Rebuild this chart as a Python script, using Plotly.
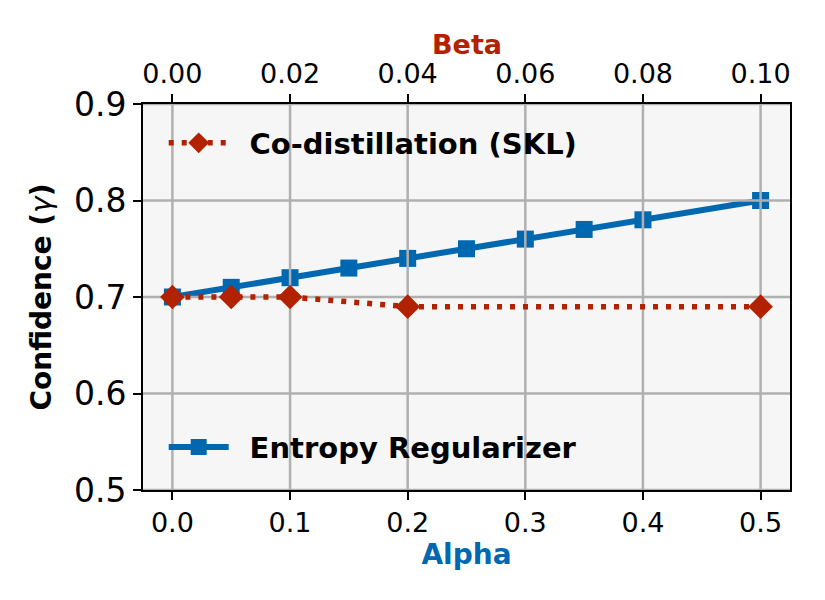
import plotly.graph_objects as go

# data
alpha = [0.0, 0.05, 0.1, 0.15, 0.2, 0.25, 0.3, 0.35, 0.4, 0.5]
entropy_conf = [0.70, 0.71, 0.72, 0.73, 0.74, 0.75, 0.76, 0.77, 0.78, 0.80]

beta = [0.0, 0.01, 0.02, 0.04, 0.10]
skl_conf = [0.70, 0.70, 0.70, 0.69, 0.69]

alpha_ticks = [0.0, 0.1, 0.2, 0.3, 0.4, 0.5]
beta_ticks = [0.00, 0.02, 0.04, 0.06, 0.08, 0.10]
y_ticks = [0.5, 0.6, 0.7, 0.8, 0.9]

alpha_range = [-0.025, 0.525]
beta_range = [-0.005, 0.105]
y_range = [0.5, 0.9]

BLUE = '#0068b0'
RED = '#b22200'
GRID = '#b0b0b0'
FONT = 'DejaVu Sans'
PAD = '\u00a0\u2009'  # small gap between legend symbol and label

fig = go.Figure()

# Entropy regularizer sits under the grid, like the original
fig.add_trace(go.Scatter(
    x=alpha, y=entropy_conf, mode='lines+markers', name=PAD + 'Entropy Regularizer',
    line=dict(color=BLUE, width=6),
    marker=dict(symbol='square', size=17, color=BLUE),
    legend='legend2',
))

# grid drawn as a trace so it lands above the blue series
gx, gy = [], []
for t in alpha_ticks:
    gx += [t, t, None]
    gy += [y_range[0], y_range[1], None]
for t in y_ticks:
    gx += [alpha_range[0], alpha_range[1], None]
    gy += [t, t, None]
fig.add_trace(go.Scatter(
    x=gx, y=gy, mode='lines', line=dict(color=GRID, width=2.5),
    hoverinfo='skip', showlegend=False,
))

# Co-distillation on the top (Beta) axis
fig.add_trace(go.Scatter(
    x=beta, y=skl_conf, mode='lines+markers', name=PAD + 'Co-distillation (SKL)',
    xaxis='x2',
    line=dict(color=RED, width=5.5, dash='5px,8px'),
    marker=dict(symbol='diamond', size=19, color=RED),
    legend='legend',
))

axis_common = dict(
    showline=True, linecolor='black', linewidth=2,
    ticks='outside', ticklen=8, tickwidth=2, tickcolor='black',
    showgrid=False, zeroline=False,
)

fig.update_layout(
    width=825, height=600,
    margin=dict(l=135, r=43, t=96, b=118),
    paper_bgcolor='white', plot_bgcolor='#f6f6f6',
    font=dict(family=FONT, color='black'),
    xaxis=dict(
        **axis_common, mirror=True, range=alpha_range,
        tickvals=alpha_ticks, tickformat='.1f',
        tickfont=dict(size=27),
        title=dict(text='Alpha', font=dict(size=28, color=BLUE, weight='bold'), standoff=2),
    ),
    xaxis2=dict(
        **axis_common, overlaying='x', side='top', range=beta_range,
        tickvals=beta_ticks, tickformat='.2f',
        tickfont=dict(size=27),
    ),
    yaxis=dict(
        **axis_common, mirror=True, range=y_range,
        tickvals=y_ticks, tickformat='.1f',
        tickfont=dict(size=33),
        title=dict(text='<b>Confidence (</b><i>γ</i><b>)</b>', font=dict(size=28), standoff=14),
    ),
    legend=dict(
        x=0.032, y=0.899, xanchor='left', yanchor='middle',
        bgcolor='rgba(0,0,0,0)', itemwidth=60,
        font=dict(size=29, weight='bold'),
    ),
    legend2=dict(
        x=0.032, y=0.111, xanchor='left', yanchor='middle',
        bgcolor='rgba(0,0,0,0)', itemwidth=60,
        font=dict(size=29, weight='bold'),
    ),
    annotations=[dict(
        text='<b>Beta</b>', xref='paper', yref='paper', x=0.5, y=1.153,
        xanchor='center', yanchor='middle', showarrow=False,
        font=dict(size=27, color=RED),
    )],
)

fig.write_html("out.html")
